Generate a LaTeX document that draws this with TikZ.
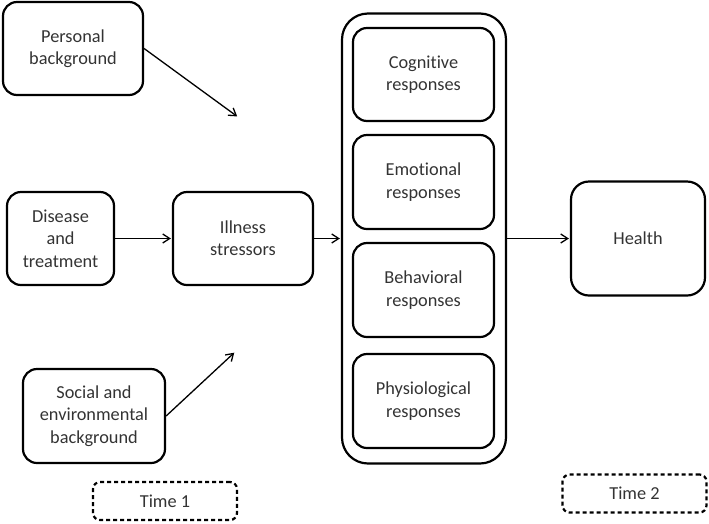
\documentclass[tikz,border=0pt]{standalone}
\usepackage{fontspec}
\setmainfont[Ligatures=NoCommon]{Carlito}
\usetikzlibrary{arrows.meta}
\begin{document}
\begin{tikzpicture}[x=1pt, y=-1pt, shorten >=1pt, line width=1.3pt, >={Straight Barb[length=7pt,width=9pt]},
  main node/.style={rectangle, draw, rounded corners=14pt, line width=2.2pt, align=center, inner sep=0pt, text=black!80},
  time node/.style={main node, dashed, dash pattern=on 4pt off 3pt, rounded corners=7pt, minimum width=144pt, minimum height=38pt}]
\useasboundingbox (0,0) rectangle (709,523);
\begin{scope}[every node/.style={font=\fontsize{18.3}{22.3}\selectfont}]
\node [main node, minimum width=164pt, minimum height=450pt, rounded corners=26pt](resp) at (424,238.5) {};
\node [main node, minimum width=140pt, minimum height=93pt](pers) at (73,48.5) {Personal\\background};
\node [main node, minimum width=107pt, minimum height=93pt](dis) at (60.5,238.5) {Disease\\and\\treatment};
\node [main node, minimum width=140pt, minimum height=93pt](ill) at (243,238.5) {Illness\\stressors};
\node [main node, minimum width=142pt, minimum height=94pt](soc) at (94,416) {Social and\\environmental\\background};
\node [main node, minimum width=141pt, minimum height=93pt](cog) at (423.5,74.5) {Cognitive\\responses};
\node [main node, minimum width=141pt, minimum height=94pt](emo) at (423.5,182) {Emotional\\responses};
\node [main node, minimum width=141pt, minimum height=94pt](beh) at (423.5,290) {Behavioral\\responses};
\node [main node, minimum width=141pt, minimum height=94pt](phy) at (423.5,401) {Physiological\\responses};
\node [main node, minimum width=134pt, minimum height=114pt, rounded corners=18pt](hlth) at (638,238.5) {Health};
\node [time node](t1) at (165,501) {Time 1};
\node [time node](t2) at (634.5,493.5) {Time 2};
\end{scope}
\coordinate (ptip) at (238,117);
\coordinate (stip) at (235,352);
\path [->]
	(pers.east) edge (ptip)
	(soc.east) edge (stip)
	(dis) edge (ill)
	(ill) edge (resp)
	(resp) edge (hlth)
	;
\end{tikzpicture}
\end{document}
